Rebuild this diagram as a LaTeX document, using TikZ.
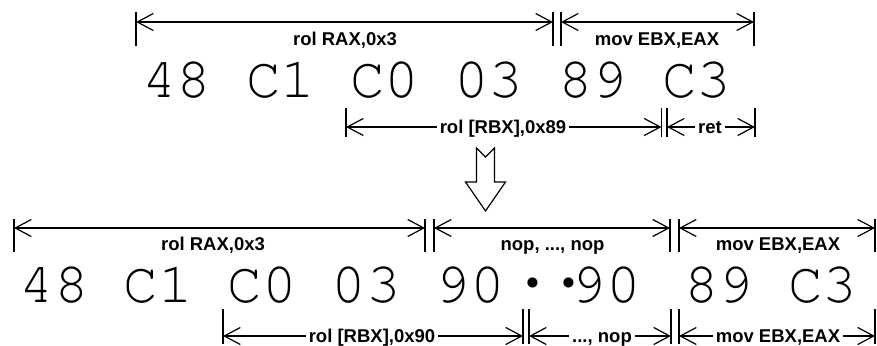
\documentclass[tikz,border=0pt]{standalone}
\usepackage{fontspec}
\usetikzlibrary{arrows.meta}
\newfontfamily\hexfont{TeX Gyre Cursor}
\newfontfamily\lblfont{Liberation Sans}
\newcommand\bigdot{{\fontsize{78}{80}\selectfont ·}}
\tikzset{
  hex/.style={font=\hexfont\fontsize{57.8}{60}\selectfont, inner sep=0pt, anchor=base},
  lbl/.style={font=\lblfont\bfseries\fontsize{18.5}{20}\selectfont, inner sep=0pt, anchor=base},
  onlbl/.style={lbl, fill=white, inner xsep=3pt, inner ysep=1pt},
  tickline/.style={line width=1.2pt},
  dimline/.style={line width=1.2pt, {Straight Barb[length=16pt,width=17pt]}-{Straight Barb[length=16pt,width=17pt]}},
  hollow/.style={line width=1.2pt, line join=miter}
}
\newcommand\mydim[6]{%
  \coordinate (#1-lt) at (#2,#4); \coordinate (#1-lb) at (#2,#5);
  \coordinate (#1-rt) at (#3,#4); \coordinate (#1-rb) at (#3,#5);
  \coordinate (#1-l) at (#2,#6); \coordinate (#1-r) at (#3,#6);
  \draw[tickline] (#1-lt) -- (#1-lb);
  \draw[tickline] (#1-rt) -- (#1-rb);
  \draw[dimline] (#1-l) -- (#1-r);}
\begin{document}
\begin{tikzpicture}[x=1pt,y=-1pt]
\useasboundingbox (0,0) rectangle (877,345);
% ---- upper encoding ----
\mydim{d1}{136}{553}{12}{46}{22}
\node[lbl] (l1) at (345,45.5) {rol RAX,0x3};
\mydim{d2}{561}{754}{12}{46}{22}
\node[lbl] (l2) at (657,45.5) {mov EBX,EAX};
\node[hex] (h1) at (436.8,97) {48 C1 C0 03 89 C3};
\mydim{d3}{346}{661.5}{108}{137}{127}
\node[onlbl] (l3) at (503,133.5) {rol [RBX],0x89};
\mydim{d4}{667}{755}{108}{137}{127}
\node[onlbl] (l4) at (710,133.5) {ret};
% ---- hollow arrow ----
\draw[hollow] (476.5,148) -- (485.5,157) -- (494.5,148) -- (494.5,182) -- (505.5,182)
  -- (485.5,211) -- (465.5,182) -- (476.5,182) -- cycle;
% ---- lower encoding ----
\mydim{d5}{14}{425}{219}{252}{228}
\node[lbl] (l5) at (213,250.5) {rol RAX,0x3};
\mydim{d6}{434}{670}{219}{252}{228}
\node[lbl] (l6) at (552.5,250.5) {nop, ..., nop};
\mydim{d7}{679}{875}{219}{252}{228}
\node[lbl] (l7) at (778,250.5) {mov EBX,EAX};
\node[hex] (h2a) at (262.2,302) {48 C1 C0 03 90};
\node[hex] (h2b) at (575.4,302) {\bigdot\kern-10.8pt\bigdot\kern-20.6pt 90};
\node[hex] (h2c) at (770.9,302) {89 C3};
\mydim{d8}{223}{523}{309}{344}{336}
\node[onlbl] (l8) at (372,342.5) {rol [RBX],0x90};
\mydim{d9}{529}{671}{309}{344}{336}
\node[onlbl] (l9) at (602,342.5) {..., nop};
\mydim{d10}{679}{875}{309}{344}{336}
\node[onlbl] (l10) at (778,342.5) {mov EBX,EAX};
\end{tikzpicture}
\end{document}
